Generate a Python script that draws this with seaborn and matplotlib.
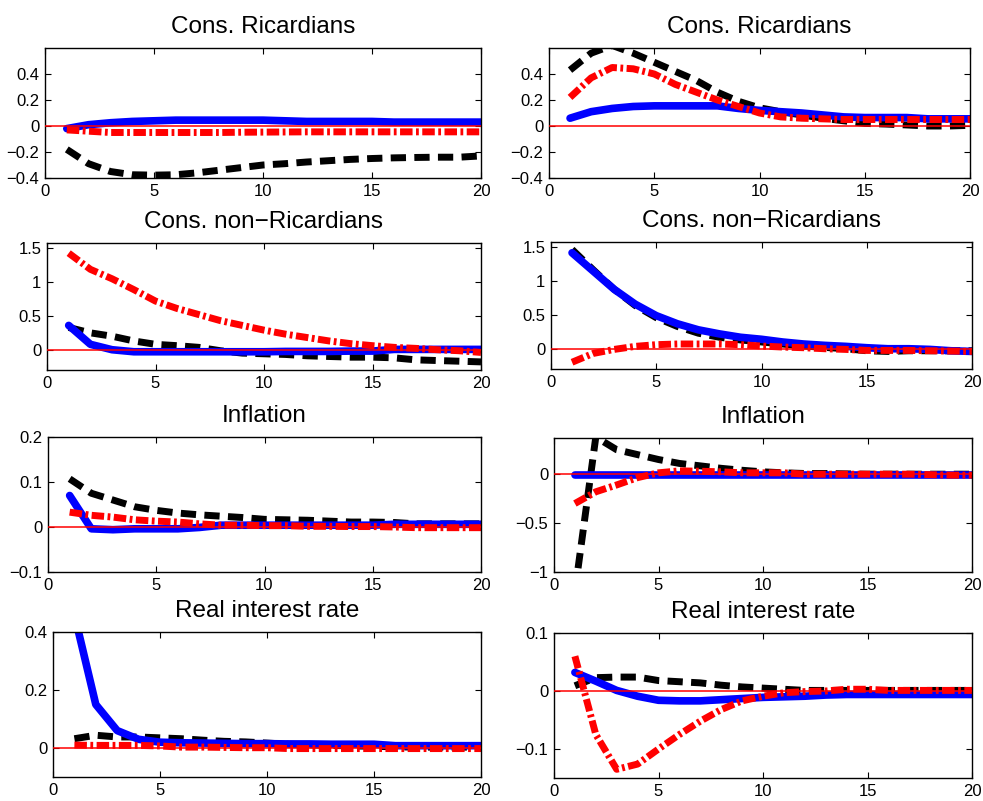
import matplotlib
matplotlib.use("Agg")
import matplotlib.pyplot as plt
from matplotlib.ticker import FuncFormatter
import numpy as np
import pandas as pd
import seaborn as sns

# ---------------- data ----------------
periods = [1, 2, 3, 4, 5, 6, 7, 8, 9, 10, 11, 12, 13, 14, 15, 16, 17, 18, 19, 20]

titles = ["Cons. Ricardians", "Cons. Ricardians",
          "Cons. non\u2212Ricardians", "Cons. non\u2212Ricardians",
          "Inflation", "Inflation",
          "Real interest rate", "Real interest rate"]

x_ticks = [0, 5, 10, 15, 20]

# panel 1: Cons. Ricardians (left)
ric_l_black = [-0.18, -0.29, -0.35, -0.375, -0.378, -0.375, -0.36, -0.34, -0.32, -0.30,
               -0.29, -0.277, -0.267, -0.257, -0.25, -0.245, -0.242, -0.24, -0.24, -0.23]
ric_l_blue = [-0.02, 0.01, 0.025, 0.035, 0.04, 0.045, 0.045, 0.045, 0.045, 0.045,
              0.04, 0.035, 0.035, 0.035, 0.035, 0.03, 0.03, 0.03, 0.03, 0.03]
ric_l_red = [-0.03, -0.04, -0.05, -0.05, -0.05, -0.05, -0.05, -0.05, -0.048, -0.047,
             -0.046, -0.045, -0.045, -0.045, -0.045, -0.045, -0.045, -0.045, -0.045, -0.045]

# panel 2: Cons. Ricardians (right)
ric_r_black = [0.43, 0.56, 0.62, 0.56, 0.49, 0.42, 0.35, 0.26, 0.19, 0.14,
               0.11, 0.085, 0.06, 0.04, 0.02, 0.015, 0.008, 0.0, 0.0, 0.005]
ric_r_blue = [0.06, 0.11, 0.135, 0.15, 0.155, 0.155, 0.155, 0.155, 0.135, 0.12,
              0.11, 0.10, 0.085, 0.07, 0.065, 0.065, 0.065, 0.055, 0.055, 0.055]
ric_r_red = [0.22, 0.37, 0.45, 0.44, 0.40, 0.32, 0.26, 0.2, 0.15, 0.10,
             0.07, 0.06, 0.055, 0.05, 0.05, 0.05, 0.05, 0.05, 0.05, 0.05]

# panel 3: Cons. non-Ricardians (left)
nric_l_black = [0.33, 0.25, 0.2, 0.13, 0.08, 0.06, 0.035, -0.015, -0.05, -0.06,
                -0.07, -0.09, -0.1, -0.11, -0.11, -0.12, -0.15, -0.16, -0.17, -0.18]
nric_l_blue = [0.36, 0.08, 0.0, -0.03, -0.03, -0.03, -0.03, -0.03, -0.03, -0.03,
               -0.025, -0.025, -0.025, -0.02, -0.02, 0.005, 0.005, 0.005, 0.005, 0.005]
nric_l_red = [1.43, 1.19, 1.05, 0.89, 0.72, 0.61, 0.52, 0.43, 0.36, 0.29,
              0.23, 0.18, 0.13, 0.09, 0.06, 0.035, 0.02, 0.0, -0.015, -0.04]

# panel 4: Cons. non-Ricardians (right)
nric_r_black = [1.47, 1.17, 0.88, 0.64, 0.46, 0.33, 0.23, 0.17, 0.13, 0.1,
                0.07, 0.04, 0.02, 0.0, -0.03, -0.04, -0.03, -0.03, -0.03, -0.03]
nric_r_blue = [1.42, 1.15, 0.88, 0.66, 0.49, 0.37, 0.28, 0.22, 0.17, 0.14,
               0.10, 0.07, 0.05, 0.035, 0.015, 0.0, 0.0, -0.01, -0.03, -0.04]
nric_r_red = [-0.2, -0.07, -0.01, 0.035, 0.06, 0.07, 0.07, 0.07, 0.06, 0.04,
              0.025, 0.015, 0.0, -0.01, -0.025, -0.025, -0.025, -0.03, -0.035, -0.04]

# panel 5: Inflation (left)
inf_l_black = [0.107, 0.075, 0.06, 0.045, 0.037, 0.031, 0.027, 0.024, 0.021, 0.017,
               0.016, 0.015, 0.013, 0.011, 0.011, 0.01, 0.007, 0.007, 0.007, 0.007]
inf_l_blue = [0.07, -0.004, -0.006, -0.004, -0.004, -0.004, -0.001, 0.004, 0.004, 0.004,
              0.004, 0.004, 0.004, 0.004, 0.004, 0.006, 0.006, 0.006, 0.006, 0.006]
inf_l_red = [0.033, 0.026, 0.022, 0.016, 0.013, 0.011, 0.007, 0.004, 0.004, 0.003,
             0.003, 0.0015, 0.0015, 0.001, 0.001, 0.0, -0.0015, -0.0015, -0.0015, -0.0015]

# panel 6: Inflation (right)
inf_r_black = [-1.2, 0.38, 0.25, 0.2, 0.15, 0.11, 0.085, 0.06, 0.04, 0.024,
               0.014, 0.007, 0.007, 0.003, 0.0, 0.0, 0.0, 0.0, 0.0, 0.0]
inf_r_blue = [-0.01, -0.01, -0.01, -0.01, -0.01, -0.01, -0.01, -0.01, -0.01, -0.01,
              -0.01, -0.01, -0.01, -0.01, -0.01, -0.01, -0.01, -0.01, -0.01, -0.01]
inf_r_red = [-0.3, -0.18, -0.11, -0.035, 0.014, 0.034, 0.03, 0.024, 0.014, 0.014,
             0.014, 0.0, 0.0, 0.0, 0.0, 0.0, 0.0, -0.005, -0.01, -0.01]

# panel 7: Real interest rate (left)
rir_l_black = [0.032, 0.044, 0.038, 0.038, 0.035, 0.032, 0.027, 0.023, 0.021, 0.017,
               0.013, 0.011, 0.009, 0.007, 0.006, 0.004, 0.003, 0.003, 0.003, 0.003]
rir_l_blue = [0.46, 0.15, 0.06, 0.03, 0.02, 0.018, 0.017, 0.016, 0.015, 0.015,
              0.014, 0.014, 0.013, 0.013, 0.013, 0.008, 0.008, 0.008, 0.008, 0.008]
rir_l_red = [0.01, 0.009, 0.009, 0.009, 0.007, 0.003, 0.003, 0.002, 0.001, 0.001,
             -0.002, -0.002, -0.002, -0.002, -0.002, -0.002, -0.002, -0.002, -0.002, -0.002]

# panel 8: Real interest rate (right)
rir_r_black = [0.009, 0.023, 0.024, 0.024, 0.018, 0.016, 0.014, 0.01, 0.007, 0.005,
               0.003, 0.001, 0.001, 0.001, 0.001, 0.001, 0.001, 0.001, 0.001, 0.001]
rir_r_blue = [0.032, 0.017, 0.001, -0.009, -0.016, -0.017, -0.017, -0.015, -0.013, -0.011,
              -0.01, -0.009, -0.007, -0.006, -0.006, -0.006, -0.006, -0.006, -0.006, -0.006]
rir_r_red = [0.06, -0.075, -0.135, -0.126, -0.1, -0.075, -0.052, -0.032, -0.017, -0.009,
             -0.003, -0.001, 0.0, 0.003, 0.003, 0.001, 0.001, 0.001, 0.001, 0.001]

panel_series = [
    (ric_l_black, ric_l_blue, ric_l_red),
    (ric_r_black, ric_r_blue, ric_r_red),
    (nric_l_black, nric_l_blue, nric_l_red),
    (nric_r_black, nric_r_blue, nric_r_red),
    (inf_l_black, inf_l_blue, inf_l_red),
    (inf_r_black, inf_r_blue, inf_r_red),
    (rir_l_black, rir_l_blue, rir_l_red),
    (rir_r_black, rir_r_blue, rir_r_red),
]

y_limits = [(-0.4, 0.6), (-0.4, 0.6), (-0.3, 1.58), (-0.3, 1.58),
            (-0.1, 0.2), (-1.0, 0.37), (-0.1, 0.4), (-0.15, 0.1)]
y_ticks = [[-0.4, -0.2, 0, 0.2, 0.4], [-0.4, -0.2, 0, 0.2, 0.4],
           [0, 0.5, 1, 1.5], [0, 0.5, 1, 1.5],
           [-0.1, 0, 0.1, 0.2], [-1, -0.5, 0],
           [0, 0.2, 0.4], [-0.1, 0, 0.1]]

# ---------------- layout (pixel boxes: left, right, top, bottom) ----------------
W, H = 983, 801
boxes = [(45, 481, 48, 178), (549, 970, 48, 178),
         (47, 481, 243, 370), (551, 972, 242, 369),
         (48, 481, 437, 572), (554, 972, 438, 572),
         (53, 481, 632, 777), (554, 972, 633, 778)]

sns.set_theme(style="ticks")
plt.rcParams["font.family"] = ["Liberation Sans", "DejaVu Sans"]
plt.rcParams["axes.unicode_minus"] = True

fig = plt.figure(figsize=(W / 100, H / 100), dpi=100)
fig.patch.set_facecolor("white")

def fmt(v, pos):
    s = format(round(v, 6), "g")
    return s.replace("-", "\u2212")

for i, (l, r, t, b) in enumerate(boxes):
    ax = fig.add_axes([l / W, 1 - b / H, (r - l) / W, (b - t) / H])
    black, blue, red = panel_series[i]
    df = pd.DataFrame({"period": periods, "black": black, "blue": blue, "red": red})
    sns.lineplot(data=df, x="period", y="black", ax=ax, color="black",
                 linewidth=5.0, linestyle=(0, (2.2, 1.2)))
    sns.lineplot(data=df, x="period", y="blue", ax=ax, color="#0000ff",
                 linewidth=5.5, linestyle="-")
    sns.lineplot(data=df, x="period", y="red", ax=ax, color="#ff0000",
                 linewidth=5.0, linestyle=(0, (1.8, 0.5, 0.4, 0.5)))
    ax.axhline(0, color="#ff0000", linewidth=1.1, zorder=5)
    ax.set_xlim(0, 20)
    ax.set_ylim(*y_limits[i])
    ax.set_xticks(x_ticks)
    ax.set_yticks(y_ticks[i])
    ax.yaxis.set_major_formatter(FuncFormatter(fmt))
    ax.set_xlabel("")
    ax.set_ylabel("")
    ax.set_title(titles[i], fontsize=17.5, pad=11, color="black")
    ax.tick_params(direction="in", length=4, width=0.8, top=True, right=True,
                   labelsize=12, pad=4, colors="black")
    for sp in ax.spines.values():
        sp.set_visible(True)
        sp.set_color("black")
        sp.set_linewidth(1.0)
    ax.set_facecolor("white")

fig.savefig("out.png", dpi=100, facecolor="white")
